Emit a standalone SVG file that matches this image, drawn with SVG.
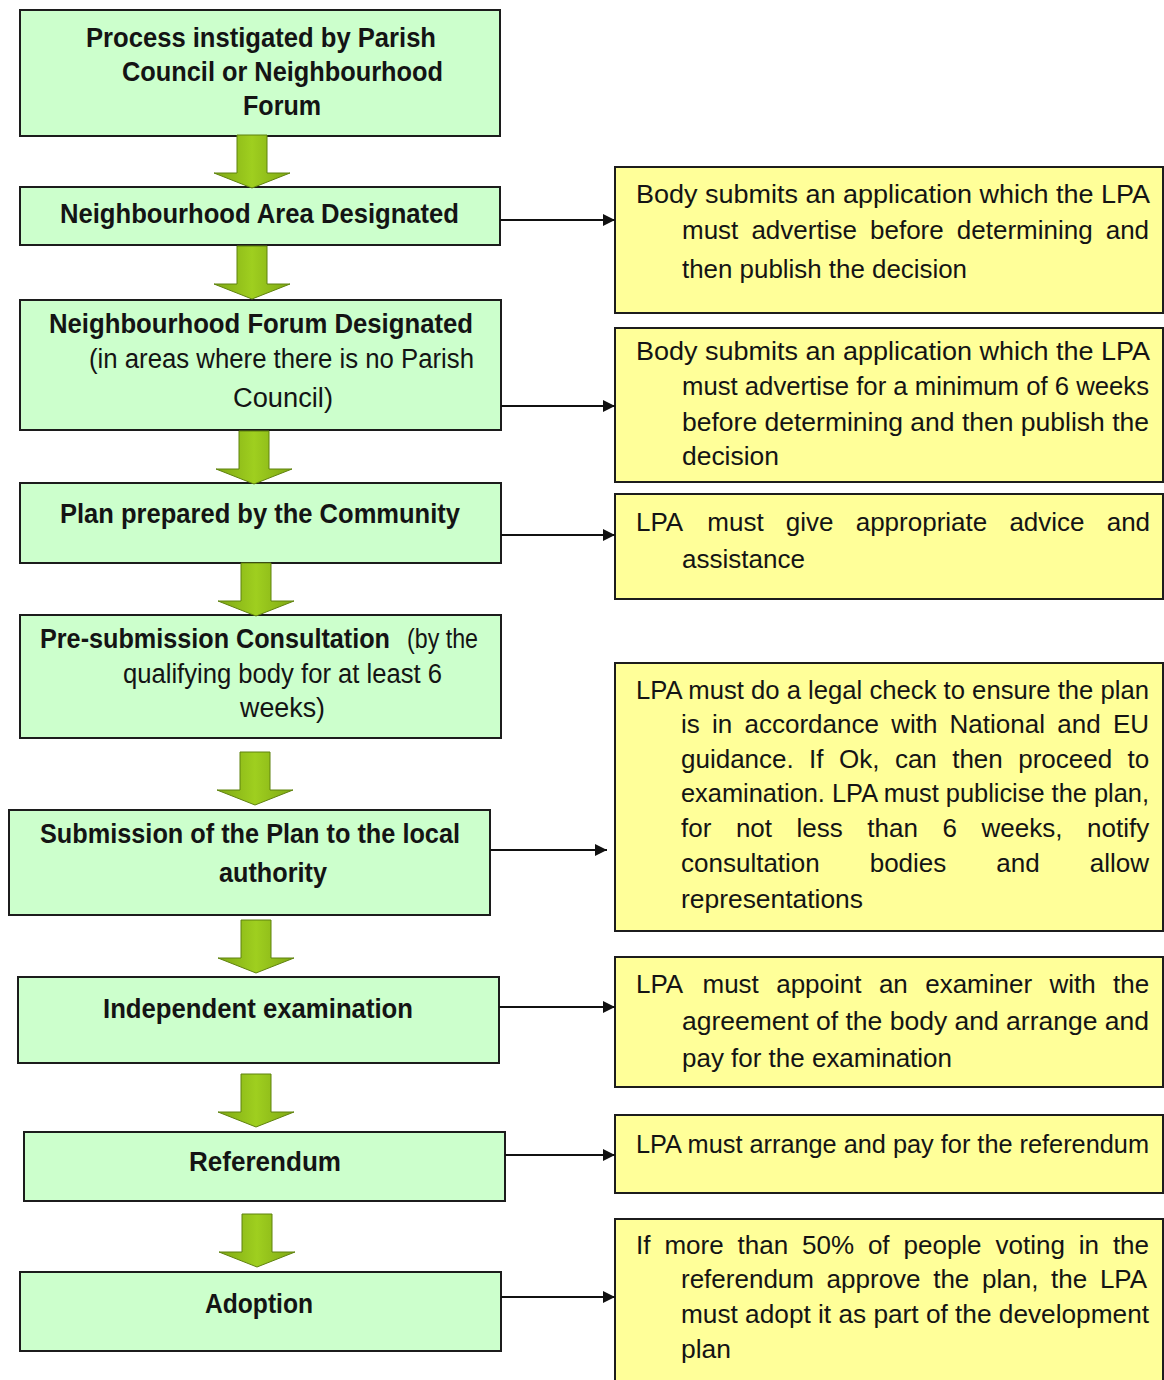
<svg xmlns="http://www.w3.org/2000/svg" width="1164" height="1380" viewBox="0 0 1164 1380">
<style>
  .g { fill: #ccffcc; stroke: #1c1c1c; stroke-width: 2; }
  .y { fill: #ffff99; stroke: #1c1c1c; stroke-width: 2; }
  text { font-family: "Liberation Sans", Arial, sans-serif; font-size: 27px; fill: #141414; }
  .b { font-weight: bold; }
  .t { font-size: 26px; }
  .c { stroke: #111; stroke-width: 2; fill: none; marker-end: url(#ah); }
  .blk { fill: url(#gr); stroke: #5f820e; stroke-width: 1; }
</style>
<defs>
  <marker id="ah" viewBox="0 0 12 12" refX="12" refY="6" markerWidth="12" markerHeight="12" markerUnits="userSpaceOnUse" orient="auto">
    <path d="M0,0 L12,6 L0,12 Z" fill="#111"/>
  </marker>
  <linearGradient id="gr" x1="0" y1="0" x2="1" y2="0">
    <stop offset="0" stop-color="#7fa814"/>
    <stop offset="0.5" stop-color="#9fcf1f"/>
    <stop offset="1" stop-color="#7fa814"/>
  </linearGradient>
  <path id="blk" d="M-15,0 H15 V38 H38 L0,53 L-38,38 H-15 Z"/>
</defs>
<rect x="0" y="0" width="1164" height="1380" fill="#ffffff"/>

<g id="n1">
  <rect class="g" x="20" y="10" width="480" height="126"/>
  <text class="b" x="86" y="47" textLength="350" lengthAdjust="spacingAndGlyphs">Process instigated by Parish</text>
  <text class="b" x="122" y="81" textLength="321" lengthAdjust="spacingAndGlyphs">Council or Neighbourhood</text>
  <text class="b" x="243" y="115" textLength="78" lengthAdjust="spacingAndGlyphs">Forum</text>
</g>
<g id="n2">
  <rect class="g" x="20" y="187" width="480" height="58"/>
  <text class="b" x="60" y="223" textLength="399" lengthAdjust="spacingAndGlyphs">Neighbourhood Area Designated</text>
</g>
<g id="n3">
  <rect class="g" x="20" y="300" width="481" height="130"/>
  <text class="b" x="49" y="333" textLength="424" lengthAdjust="spacingAndGlyphs">Neighbourhood Forum Designated</text>
  <text x="89" y="368" textLength="385" lengthAdjust="spacingAndGlyphs">(in areas where there is no Parish</text>
  <text x="233" y="407" textLength="100" lengthAdjust="spacingAndGlyphs">Council)</text>
</g>
<g id="n4">
  <rect class="g" x="20" y="483" width="481" height="80"/>
  <text class="b" x="60" y="523" textLength="400" lengthAdjust="spacingAndGlyphs">Plan prepared by the Community</text>
</g>
<g id="n5">
  <rect class="g" x="20" y="615" width="481" height="123"/>
  <text class="b" x="40" y="648" font-size="25" textLength="350" lengthAdjust="spacingAndGlyphs">Pre-submission Consultation</text>
  <text x="407" y="648" textLength="71" lengthAdjust="spacingAndGlyphs">(by the</text>
  <text x="123" y="683" textLength="319" lengthAdjust="spacingAndGlyphs">qualifying body for at least 6</text>
  <text x="240" y="717" textLength="85" lengthAdjust="spacingAndGlyphs">weeks)</text>
</g>
<g id="n6">
  <rect class="g" x="9" y="810" width="481" height="105"/>
  <text class="b" x="40" y="843" textLength="420" lengthAdjust="spacingAndGlyphs">Submission of the Plan to the local</text>
  <text class="b" x="219" y="882" textLength="108" lengthAdjust="spacingAndGlyphs">authority</text>
</g>
<g id="n7">
  <rect class="g" x="18" y="977" width="481" height="86"/>
  <text class="b" x="103" y="1018" textLength="310" lengthAdjust="spacingAndGlyphs">Independent examination</text>
</g>
<g id="n8">
  <rect class="g" x="24" y="1132" width="481" height="69"/>
  <text class="b" x="189" y="1171" textLength="152" lengthAdjust="spacingAndGlyphs">Referendum</text>
</g>
<g id="n9">
  <rect class="g" x="20" y="1272" width="481" height="79"/>
  <text class="b" x="205" y="1313" textLength="108" lengthAdjust="spacingAndGlyphs">Adoption</text>
</g>

<g id="r1">
  <rect class="y" x="615" y="167" width="548" height="146"/>
  <text class="t" x="636" y="203" textLength="514" lengthAdjust="spacingAndGlyphs">Body submits an application which the LPA</text>
  <text class="t" y="239"><tspan x="682">must</tspan> <tspan x="751.4">advertise</tspan> <tspan x="870">before</tspan> <tspan x="956.8">determining</tspan> <tspan x="1105.7">and</tspan></text>
  <text class="t" x="682" y="278" textLength="285" lengthAdjust="spacingAndGlyphs">then publish the decision</text>
</g>
<g id="r2">
  <rect class="y" x="615" y="328" width="548" height="154"/>
  <text class="t" x="636" y="360" textLength="514" lengthAdjust="spacingAndGlyphs">Body submits an application which the LPA</text>
  <text class="t" x="682" y="395" textLength="467" lengthAdjust="spacingAndGlyphs">must advertise for a minimum of 6 weeks</text>
  <text class="t" x="682" y="431" textLength="467" lengthAdjust="spacingAndGlyphs">before determining and then publish the</text>
  <text class="t" x="682" y="465" textLength="97" lengthAdjust="spacingAndGlyphs">decision</text>
</g>
<g id="r3">
  <rect class="y" x="615" y="494" width="548" height="105"/>
  <text class="t" y="531"><tspan x="636">LPA</tspan> <tspan x="707.3">must</tspan> <tspan x="785.8">give</tspan> <tspan x="855.7">appropriate</tspan> <tspan x="1009.4">advice</tspan> <tspan x="1106.7">and</tspan></text>
  <text class="t" x="682" y="568" textLength="123" lengthAdjust="spacingAndGlyphs">assistance</text>
</g>
<g id="r4">
  <rect class="y" x="615" y="663" width="548" height="268"/>
  <text class="t" x="636" y="699" textLength="513" lengthAdjust="spacingAndGlyphs">LPA must do a legal check to ensure the plan</text>
  <text class="t" y="733"><tspan x="681">is</tspan> <tspan x="712.1">in</tspan> <tspan x="744.5">accordance</tspan> <tspan x="891.2">with</tspan> <tspan x="949.6">National</tspan> <tspan x="1057.3">and</tspan> <tspan x="1112.9">EU</tspan></text>
  <text class="t" y="768"><tspan x="681">guidance.</tspan> <tspan x="809.1">If</tspan> <tspan x="839">Ok,</tspan> <tspan x="894.9">can</tspan> <tspan x="952.2">then</tspan> <tspan x="1018.2">proceed</tspan> <tspan x="1127.5">to</tspan></text>
  <text class="t" x="681" y="802" textLength="468" lengthAdjust="spacingAndGlyphs">examination. LPA must publicise the plan,</text>
  <text class="t" y="837"><tspan x="681">for</tspan> <tspan x="735.9">not</tspan> <tspan x="796.5">less</tspan> <tspan x="867.3">than</tspan> <tspan x="942.5">6</tspan> <tspan x="981.5">weeks,</tspan> <tspan x="1087">notify</tspan></text>
  <text class="t" y="872"><tspan x="681">consultation</tspan> <tspan x="869.7">bodies</tspan> <tspan x="996.3">and</tspan> <tspan x="1089.7">allow</tspan></text>
  <text class="t" x="681" y="908" textLength="182" lengthAdjust="spacingAndGlyphs">representations</text>
</g>
<g id="r5">
  <rect class="y" x="615" y="957" width="548" height="130"/>
  <text class="t" y="993"><tspan x="636">LPA</tspan> <tspan x="702.5">must</tspan> <tspan x="776.2">appoint</tspan> <tspan x="878.9">an</tspan> <tspan x="925.2">examiner</tspan> <tspan x="1049.5">with</tspan> <tspan x="1113.1">the</tspan></text>
  <text class="t" x="682" y="1030" textLength="467" lengthAdjust="spacingAndGlyphs">agreement of the body and arrange and</text>
  <text class="t" x="682" y="1067" textLength="270" lengthAdjust="spacingAndGlyphs">pay for the examination</text>
</g>
<g id="r6">
  <rect class="y" x="615" y="1115" width="548" height="78"/>
  <text class="t" x="636" y="1153" textLength="513" lengthAdjust="spacingAndGlyphs">LPA must arrange and pay for the referendum</text>
</g>
<g id="r7">
  <rect class="y" x="615" y="1219" width="548" height="170"/>
  <text class="t" y="1254"><tspan x="636">If</tspan> <tspan x="664.4">more</tspan> <tspan x="737.5">than</tspan> <tspan x="802">50%</tspan> <tspan x="867.9">of</tspan> <tspan x="903.5">people</tspan> <tspan x="995.5">voting</tspan> <tspan x="1078.8">in</tspan> <tspan x="1112.9">the</tspan></text>
  <text class="t" y="1288"><tspan x="681">referendum</tspan> <tspan x="826.6">approve</tspan> <tspan x="933.2">the</tspan> <tspan x="982">plan,</tspan> <tspan x="1051.1">the</tspan> <tspan x="1099.9">LPA</tspan></text>
  <text class="t" x="681" y="1323" textLength="468" lengthAdjust="spacingAndGlyphs">must adopt it as part of the development</text>
  <text class="t" x="681" y="1358" textLength="50" lengthAdjust="spacingAndGlyphs">plan</text>
</g>

<g id="connectors">
  <use href="#blk" class="blk" x="252" y="135"/>
  <use href="#blk" class="blk" x="252" y="246"/>
  <use href="#blk" class="blk" x="254" y="431"/>
  <use href="#blk" class="blk" x="256" y="563"/>
  <use href="#blk" class="blk" x="255" y="752"/>
  <use href="#blk" class="blk" x="256" y="920"/>
  <use href="#blk" class="blk" x="256" y="1074"/>
  <use href="#blk" class="blk" x="257" y="1214"/>
  <path class="c" d="M500,220 H615"/>
  <path class="c" d="M501,406 H615"/>
  <path class="c" d="M501,535 H615"/>
  <path class="c" d="M490,850 H607"/>
  <path class="c" d="M499,1007 H615"/>
  <path class="c" d="M505,1155 H615"/>
  <path class="c" d="M501,1297 H615"/>
</g>
</svg>
